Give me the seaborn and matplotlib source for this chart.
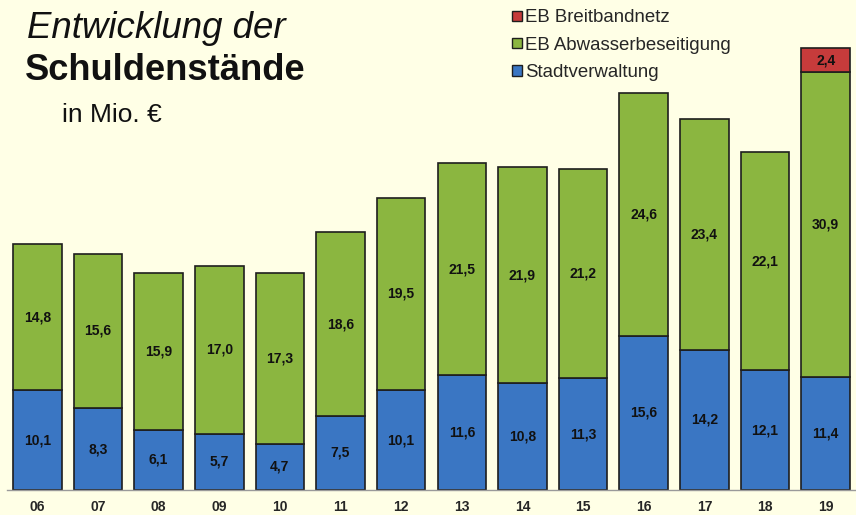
import matplotlib
matplotlib.use("Agg")
import matplotlib.pyplot as plt
from matplotlib.patches import Patch
import pandas as pd
import seaborn as sns

# data
years = ["06", "07", "08", "09", "10", "11", "12", "13", "14", "15", "16", "17", "18", "19"]
stadt = [10.1, 8.3, 6.1, 5.7, 4.7, 7.5, 10.1, 11.6, 10.8, 11.3, 15.6, 14.2, 12.1, 11.4]
abwasser = [14.8, 15.6, 15.9, 17.0, 17.3, 18.6, 19.5, 21.5, 21.9, 21.2, 24.6, 23.4, 22.1, 30.9]
breit_years = ["19"]
breit = [2.4]
breit_bottom = [11.4 + 30.9]

bg = "#FFFFE6"
c_blue = "#3A76C3"
c_green = "#8BB640"
c_red = "#C63B3B"
edge = "#1E1E1E"

sns.set_style("white", {"axes.facecolor": bg, "figure.facecolor": bg})
plt.rcParams["font.family"] = ["Liberation Sans", "DejaVu Sans"]

fig = plt.figure(figsize=(8.56, 5.15), dpi=100)
ax = fig.add_axes([7 / 856, 25 / 515, 849 / 856, 490 / 515])
ax.set_facecolor(bg)

df = pd.DataFrame({"year": years, "stadt": stadt, "abwasser": abwasser})
df_b = pd.DataFrame({"year": breit_years, "breit": breit, "bottom": breit_bottom})

bar_kw = dict(width=0.8, edgecolor=edge, linewidth=1.2, saturation=1, errorbar=None, ax=ax)
sns.barplot(data=df, x="year", y="stadt", order=years, color=c_blue, **bar_kw)
sns.barplot(data=df, x="year", y="abwasser", order=years, color=c_green,
            bottom=df["stadt"].values, **bar_kw)
sns.barplot(data=df_b, x="year", y="breit", order=years, color=c_red,
            bottom=df_b["bottom"].values, **bar_kw)

# value labels
lab_kw = dict(ha="center", va="center", fontsize=10, fontweight="bold", color="#111111")
for i, (s, a) in enumerate(zip(stadt, abwasser)):
    ax.text(i, s / 2, f"{s:.1f}".replace(".", ","), **lab_kw)
    ax.text(i, s + a / 2, f"{a:.1f}".replace(".", ","), **lab_kw)
for y, b, bot in zip(breit_years, breit, breit_bottom):
    ax.text(years.index(y), bot + b / 2, f"{b:.1f}".replace(".", ","), **lab_kw)

ax.set_xlim(-0.5, 13.4)
ax.set_ylim(0, 49.6)
ax.set_xlabel("")
ax.set_ylabel("")
ax.set_yticks([])
for sp in ["top", "right", "left"]:
    ax.spines[sp].set_visible(False)
ax.spines["bottom"].set_color("#9A9A9A")
ax.spines["bottom"].set_linewidth(1)
ax.tick_params(axis="x", which="major", length=0, pad=7, labelsize=10)
for t in ax.get_xticklabels():
    t.set_fontweight("bold")
ax.set_xticks([i - 0.5 for i in range(len(years) + 1)], minor=True)
ax.tick_params(axis="x", which="minor", length=5, color="#9A9A9A", direction="out")

# titles
fig.text(27 / 856, 1 - 38 / 515, "Entwicklung der", fontsize=26.4, fontstyle="italic",
         va="baseline", ha="left", color="#111111")
fig.text(25 / 856, 1 - 80 / 515, "Schuldenstände", fontsize=26.2, fontweight="bold",
         va="baseline", ha="left", color="#111111")
fig.text(62 / 856, 1 - 122 / 515, "in Mio. €", fontsize=19,
         va="baseline", ha="left", color="#111111")

# legend
handles = [Patch(facecolor=c_red, edgecolor=edge, label="EB Breitbandnetz"),
           Patch(facecolor=c_green, edgecolor=edge, label="EB Abwasserbeseitigung"),
           Patch(facecolor=c_blue, edgecolor=edge, label="Stadtverwaltung")]
fig.legend(handles=handles, loc="upper left", bbox_to_anchor=(505 / 856, 1 - 2 / 515),
           frameon=False, fontsize=13.4, handlelength=0.5, handleheight=0.5,
           handletextpad=0.2, labelspacing=0.55, borderaxespad=0)

fig.savefig("out.png", dpi=100, facecolor=bg)
